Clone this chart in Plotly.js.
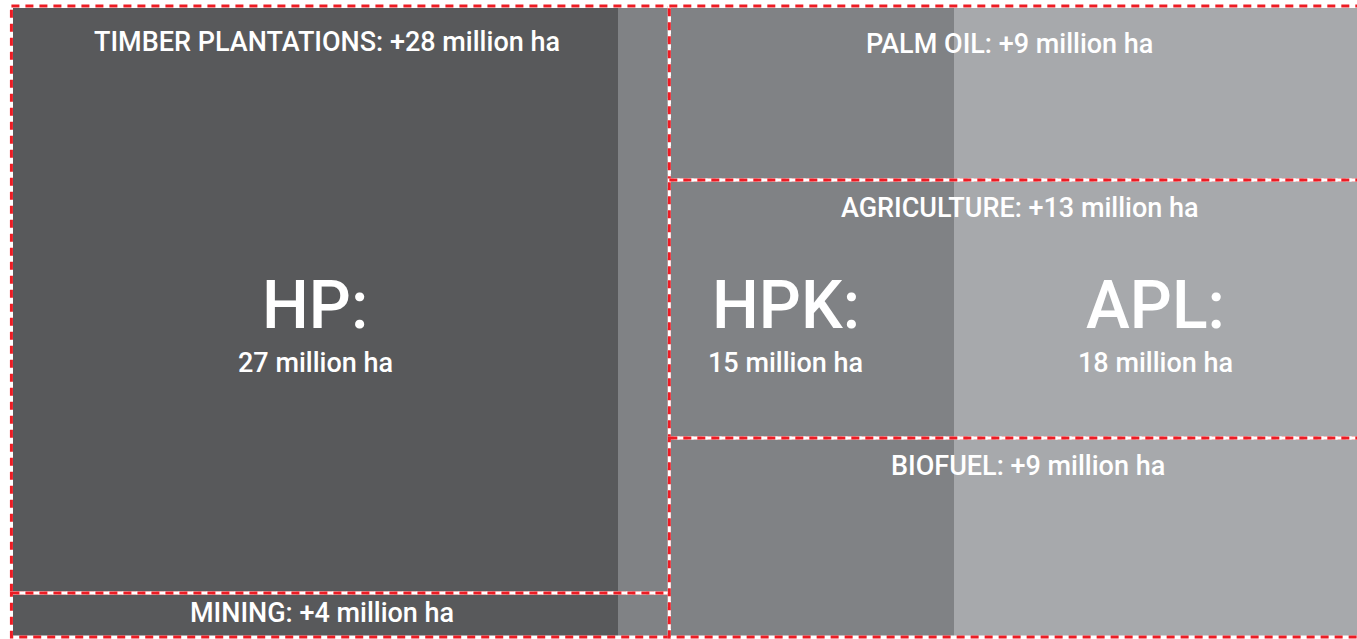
<!DOCTYPE html>
<html>
<head>
<meta charset="utf-8">
<script src="https://cdn.plot.ly/plotly-3.0.1.min.js"></script>
<style>
  html, body { margin: 0; padding: 0; background: #ffffff; overflow: hidden; }
  #chart { width: 1357px; height: 639px; }
</style>
</head>
<body>
<div id="chart"></div>
<script>
// forest land status zones (million ha)
var zones = ["HP", "HPK", "APL"];
var zone_values = [27, 15, 18];
var zone_colors = ["#58595b", "#808285", "#a7a9ac"];

// planned expansion boxes (million ha)
var left_uses = ["TIMBER PLANTATIONS", "MINING"];
var left_values = [28, 4];
var right_uses = ["PALM OIL", "AGRICULTURE", "BIOFUEL"];
var right_values = [9, 13, 9];

// vertical split of the boxes (pixel rows, y axis runs top to bottom)
var left_rows = [6, 593, 637];
var right_rows = [6, 180, 438, 637];
var box_split = 29.3;   // x position of the divider between the two box columns
var box_left = -0.07;
var box_right = 60.2;

var fill_top = 8, fill_bottom = 638;

// cumulative positions of zones
var zone_x = [];
var acc = 0;
for (let i = 0; i < zone_values.length; i++) {
    zone_x.push(acc + zone_values[i] / 2);
    acc += zone_values[i];
}

var data = [{
    type : 'bar',
    x : zone_x,
    width : zone_values,
    base : Array(zone_values.length).fill(fill_top),
    y : Array(zone_values.length).fill(fill_bottom - fill_top),
    marker : { color : zone_colors, line : { width : 0 } },
    hoverinfo : 'skip',
    showlegend : false
}];

var shapes = [];
function add_box(x0, x1, y0, y1) {
    var base = { type : 'rect', xref : 'x', yref : 'y', x0 : x0, x1 : x1, y0 : y0, y1 : y1, layer : 'above' };
    shapes.push(Object.assign({}, base, { line : { color : '#ffffff', width : 3 } }));
    shapes.push(Object.assign({}, base, { line : { color : '#ed1c24', width : 3, dash : '8px,6px' } }));
}
for (let i = 0; i < left_uses.length; i++) {
    add_box(box_left, box_split, left_rows[i], left_rows[i+1]);
}
for (let i = 0; i < right_uses.length; i++) {
    add_box(box_split, box_right, right_rows[i], right_rows[i+1]);
}

var font_family = "Roboto, 'Open Sans', sans-serif";
var label_font = { family : font_family, size : 27, color : '#ffffff', weight : 500 };
var annotations = [];
// box labels
var left_label_x = [14, 13.8];
var left_label_y = [42, 613];
for (let i = 0; i < left_uses.length; i++) {
    annotations.push({
	x : left_label_x[i], y : left_label_y[i], xref : 'x', yref : 'y',
	text : left_uses[i] + ": +" + left_values[i] + " million ha",
	showarrow : false, font : label_font, borderpad : 0
    });
}
var right_label_x = [44.5, 44.95, 45.3];
var right_label_y = [44, 208, 466];
for (let i = 0; i < right_uses.length; i++) {
    annotations.push({
	x : right_label_x[i], y : right_label_y[i], xref : 'x', yref : 'y',
	text : right_uses[i] + ": +" + right_values[i] + " million ha",
	showarrow : false, font : label_font, borderpad : 0
    });
}
// zone labels
for (let i = 0; i < zones.length; i++) {
    annotations.push({
	x : zone_x[i], y : 345, xref : 'x', yref : 'y', yanchor : 'bottom',
	text : zones[i] + ":",
	showarrow : false, borderpad : 0,
	font : { family : font_family, size : 66, color : '#ffffff', weight : 500 }
    });
    annotations.push({
	x : zone_x[i], y : 346, xref : 'x', yref : 'y', yanchor : 'top',
	text : zone_values[i] + " million ha",
	showarrow : false, font : label_font, borderpad : 0
    });
}

var layout = {
    width : 1357, height : 639,
    margin : { l : 0, r : 0, t : 0, b : 0 },
    paper_bgcolor : '#ffffff', plot_bgcolor : '#ffffff',
    barmode : 'overlay', bargap : 0,
    xaxis : { range : [-0.58, 60], visible : false, fixedrange : true },
    yaxis : { range : [639, 0], visible : false, fixedrange : true },
    shapes : shapes,
    annotations : annotations,
    showlegend : false
};
Plotly.newPlot('chart', data, layout, { displayModeBar : false, staticPlot : true });
</script>
</body>
</html>
